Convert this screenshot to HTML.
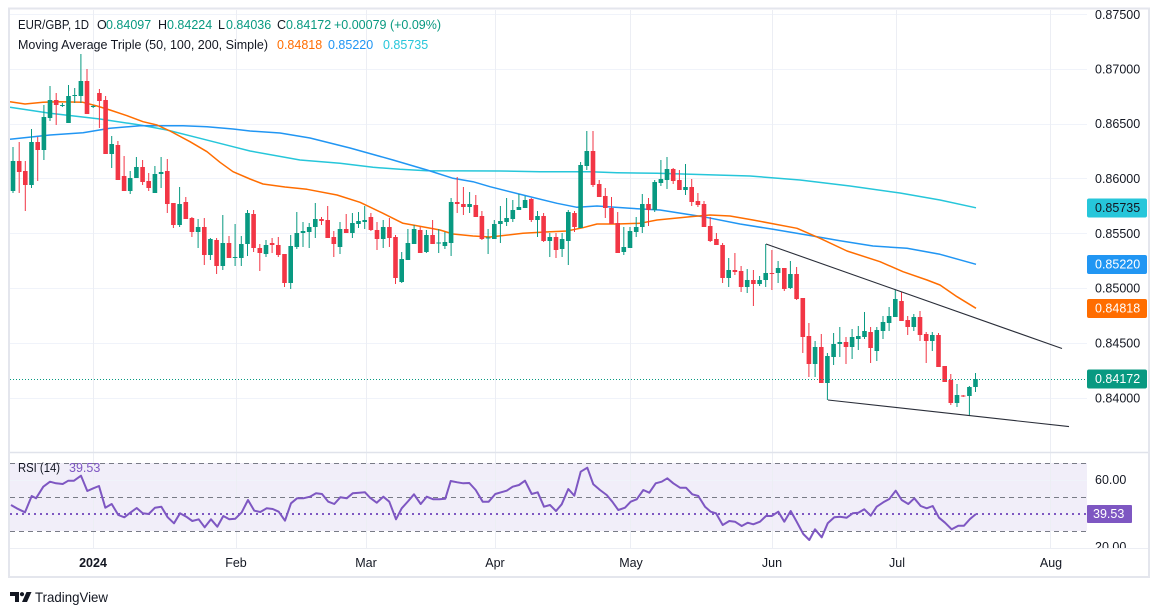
<!DOCTYPE html>
<html><head><meta charset="utf-8"><style>
html,body{margin:0;padding:0;background:#fff;width:1159px;height:615px;overflow:hidden}
svg{display:block;font-family:"Liberation Sans",sans-serif}
</style></head><body>
<svg width="1159" height="615" viewBox="0 0 1159 615" xmlns="http://www.w3.org/2000/svg">
<rect x="0" y="0" width="1159" height="615" fill="#fff"/>
<!-- RSI band -->
<rect x="10" y="463" width="1077" height="68" fill="#f1eef9"/>
<!-- grid -->
<g stroke="#f0f3fa" stroke-width="1">
<path d="M10 14.5H1087M10 69.5H1087M10 124.5H1087M10 178.5H1087M10 233.5H1087M10 288.5H1087M10 343.5H1087M10 398.5H1087"/>
<path d="M10 480.5H1087M10 513.5H1087"/>
<path d="M93.5 10V548M236.5 10V548M366.5 10V548M495.5 10V548M630.5 10V548M772.5 10V548M896.5 10V548M1050.5 10V548" stroke="#eceef4"/>
</g>
<!-- RSI levels -->
<g stroke="#787b86" stroke-width="1" stroke-dasharray="5 4" fill="none">
<path d="M10 463.5H1087M10 497.5H1087M10 531.5H1087"/>
</g>
<path d="M10 514H1087" stroke="#7e57c2" stroke-width="2" stroke-dasharray="2 4" fill="none"/>
<!-- MAs -->
<g fill="none" stroke-width="1.5" stroke-linejoin="round">
<polyline stroke="#26c6da" points="10,107.3 50,113.3 100,119 140,125 167,130 200,138.3 233,146.7 250,151 300,160 340,163.3 373,167.3 400,169.3 427,170.7 500,171 540,171.7 590,171.7 617,172.7 657,173.3 750,176 800,180 850,186 900,193 940,200 976,207.8"/>
<polyline stroke="#2196f3" points="10,139.3 50,135 83,132.7 110,128.3 140,125.7 183,125.7 207,126.7 233,129 250,131 280,133 310,138 350,148 393,160 427,170 453,178.3 473,181.7 490,186.7 523,195 557,203.3 577,207.3 597,206 630,208.3 660,210 703,216.7 740,224 773,229.3 807,235 840,240.7 873,246 907,248.3 940,254.3 976,264.3"/>
<polyline stroke="#ff6d00" points="10,101.7 25,104 43,102.3 58,101.7 83,102.3 97,106 110,110 127,115.7 143,121.7 157,125 170,131 190,141.7 207,151.7 220,162.3 233,171.7 250,179 263,184 285,187 307,189.3 337,195 360,202.3 383,213.3 403,223.3 417,225.7 440,230 453,234 473,236 490,237 523,233.3 545,232 567,231 583,227.7 597,224 617,224 640,223.3 657,220 690,216.7 710,215 730,216 753,220 797,228.3 820,238.3 847,251 880,261.7 903,271.7 927,280 940,285 957,296.7 976,308.3"/>
</g>
<!-- candles green -->
<path stroke="#089981" stroke-width="1" fill="none" d="M13 147V193M31.5 129V188M43.9 105V160M50 86V121M62.4 103V107M68.5 85V123M74.7 88V103M80.9 54V103M93.2 105V108M111.7 136V168M130.2 171V194M136.4 157V178M154.9 166V193M161.1 157V188M179.6 187V227M198.1 219V248M210.4 238V260M222.8 215V270M235.1 224V266M241.3 236V266M247.5 210V256M266 240V257M290.7 235V289M296.8 212V249M303 222V247M309.2 223V248M315.3 203V238M340 222V254M352.4 213V238M358.5 212V228M364.7 206V229M383.2 220V248M401.7 252V283M407.9 229V260M414.1 225V244M426.4 230V253M438.7 229V253M444.9 232V249M451.1 198V256M469.6 192V213M488.1 229V254M494.3 220V239M500.4 206V243M506.6 198V226M512.8 200V222M518.9 194V210M525.1 196V208M537.5 211V237M549.8 233V257M562.1 233V257M568.3 210V265M580.6 162V228M586.8 131V170M623.8 227V255M630 227V248M636.2 217V237M642.3 194V233M654.7 180V212M660.9 160V186M667 157V189M685.5 164V195M728.7 258V287M747.2 269V293M759.6 276V286M765.7 244V287M778.1 261V283M790.4 261V289M815.1 341V377M827.4 353V400M833.6 333V365M839.8 327V357M852.1 329V359M858.3 326V350M864.5 312V339M876.8 327V361M883 316V339M889.1 307V331M895.3 290V317M913.8 314V331M932.3 332V351M957 384V407M969.4 386V416M975.5 373V392"/>
<path fill="#089981" d="M10.7 161h4.6V191h-4.6zM29.2 142h4.6V185h-4.6zM41.6 117h4.6V150h-4.6zM47.7 100h4.6V118h-4.6zM60.1 105h4.6V106h-4.6zM66.2 96h4.6V123h-4.6zM72.4 95h4.6V96h-4.6zM78.6 81h4.6V96h-4.6zM90.9 106h4.6V107h-4.6zM109.4 144h4.6V154h-4.6zM127.9 178h4.6V191h-4.6zM134.1 167h4.6V178h-4.6zM152.6 174h4.6V193h-4.6zM158.8 172h4.6V174h-4.6zM177.3 204h4.6V225h-4.6zM195.8 227h4.6V232h-4.6zM208.1 239h4.6V255h-4.6zM220.5 243h4.6V266h-4.6zM232.8 257h4.6V258h-4.6zM239 244h4.6V258h-4.6zM245.2 213h4.6V244h-4.6zM263.7 245h4.6V254h-4.6zM288.4 246h4.6V283h-4.6zM294.5 233h4.6V247h-4.6zM300.7 231h4.6V233h-4.6zM306.9 227h4.6V232h-4.6zM313 219h4.6V227h-4.6zM337.7 229h4.6V247h-4.6zM350.1 223h4.6V233h-4.6zM356.2 221h4.6V224h-4.6zM362.4 220h4.6V222h-4.6zM380.9 227h4.6V239h-4.6zM399.4 259h4.6V282h-4.6zM405.6 243h4.6V260h-4.6zM411.8 229h4.6V244h-4.6zM424.1 235h4.6V252h-4.6zM436.4 242.5h4.6V243.5h-4.6zM442.6 242h4.6V246h-4.6zM448.8 202h4.6V243h-4.6zM467.3 204h4.6V207h-4.6zM485.8 237.5h4.6V238.5h-4.6zM492 224h4.6V239h-4.6zM498.1 221h4.6V224h-4.6zM504.3 218h4.6V222h-4.6zM510.5 210h4.6V219h-4.6zM516.6 207h4.6V210h-4.6zM522.8 200h4.6V208h-4.6zM535.2 216h4.6V220h-4.6zM547.5 237h4.6V241h-4.6zM559.8 239h4.6V249h-4.6zM566 212h4.6V241h-4.6zM578.3 165h4.6V228h-4.6zM584.5 151h4.6V166h-4.6zM621.5 247h4.6V252h-4.6zM627.7 231h4.6V248h-4.6zM633.9 227h4.6V232h-4.6zM640 204h4.6V227h-4.6zM652.4 182h4.6V210h-4.6zM658.6 179h4.6V183h-4.6zM664.7 169h4.6V180h-4.6zM683.2 187h4.6V190h-4.6zM726.4 270h4.6V278h-4.6zM744.9 280h4.6V287h-4.6zM757.3 280h4.6V284h-4.6zM763.4 273h4.6V280h-4.6zM775.8 268h4.6V273h-4.6zM788.1 274h4.6V288h-4.6zM812.8 347h4.6V364h-4.6zM825.1 356h4.6V383h-4.6zM831.3 344h4.6V357h-4.6zM837.5 342h4.6V344h-4.6zM849.8 337h4.6V347h-4.6zM856 336h4.6V339h-4.6zM862.2 331h4.6V337h-4.6zM874.5 330h4.6V351h-4.6zM880.7 322h4.6V331h-4.6zM886.8 316h4.6V323h-4.6zM893 299h4.6V317h-4.6zM911.5 317h4.6V327h-4.6zM930 335h4.6V341h-4.6zM954.7 395h4.6V403h-4.6zM967.1 387h4.6V396h-4.6zM973.2 379h4.6V387h-4.6z"/>
<!-- candles red -->
<path stroke="#f23645" stroke-width="1" fill="none" d="M19.2 142V193M25.3 161V211M37.7 137V181M56.2 93V125M87 69V114M99.4 89V128M105.6 96V154M117.9 141V180M124.1 156V191M142.6 160V185M148.7 173V191M167.3 159V213M173.4 203V228M185.8 197V219M191.9 217V237M204.3 218V265M216.6 238V274M229 236V258M253.6 210V252M259.8 244V271M272.1 238V253M278.3 237V257M284.5 254V287M321.5 217V225M327.7 206V238M333.8 231V257M346.2 214V233M370.9 213V231M377 222V250M389.4 218V247M395.5 235V284M420.2 227V253M432.6 220V244M457.2 177V213M463.4 187V215M475.8 195V217M481.9 211V240M531.3 198V222M543.6 213V242M556 233V258M574.5 211V232M593 131V187M599.2 180V197M605.3 188V218M611.5 197V224M617.7 212V253M648.5 198V226M673.2 168V184M679.4 170V190M691.7 179V206M697.9 193V207M704 201V227M710.2 217V242M716.4 233V245M722.6 243V283M734.9 253V275M741.1 266V292M753.4 270V306M771.9 250V290M784.3 268V291M796.6 267V300M802.8 298V353M808.9 323V377M821.3 334V383M846 337V364M870.6 327V363M901.5 292V321M907.7 316V335M920 311V341M926.2 332V363M938.5 333V367M944.7 366V382M950.8 374V405M963.2 395V397"/>
<path fill="#f23645" d="M16.9 161h4.6V172h-4.6zM23 171h4.6V185h-4.6zM35.4 142h4.6V150h-4.6zM53.9 100h4.6V105h-4.6zM84.7 81h4.6V114h-4.6zM97.1 93h4.6V101h-4.6zM103.3 100h4.6V154h-4.6zM115.6 145h4.6V180h-4.6zM121.8 176h4.6V191h-4.6zM140.3 167h4.6V182h-4.6zM146.4 181h4.6V188h-4.6zM165 171h4.6V204h-4.6zM171.1 203h4.6V225h-4.6zM183.5 202h4.6V219h-4.6zM189.6 218h4.6V232h-4.6zM202 227h4.6V255h-4.6zM214.3 240h4.6V266h-4.6zM226.7 243h4.6V258h-4.6zM251.3 214h4.6V248h-4.6zM257.5 248h4.6V253h-4.6zM269.8 243h4.6V245h-4.6zM276 245h4.6V255h-4.6zM282.2 254h4.6V283h-4.6zM319.2 219h4.6V221h-4.6zM325.4 220h4.6V238h-4.6zM331.5 237h4.6V244h-4.6zM343.9 229h4.6V233h-4.6zM368.6 217h4.6V230h-4.6zM374.7 230h4.6V239h-4.6zM387.1 227h4.6V238h-4.6zM393.2 237h4.6V278h-4.6zM417.9 230h4.6V253h-4.6zM430.3 235h4.6V244h-4.6zM454.9 202h4.6V204h-4.6zM461.1 204h4.6V207h-4.6zM473.5 205h4.6V217h-4.6zM479.6 216h4.6V239h-4.6zM529 199h4.6V220h-4.6zM541.3 216h4.6V241h-4.6zM553.7 237h4.6V250h-4.6zM572.2 213h4.6V227h-4.6zM590.7 151h4.6V185h-4.6zM596.9 184h4.6V197h-4.6zM603 196h4.6V208h-4.6zM609.2 208h4.6V224h-4.6zM615.4 223h4.6V253h-4.6zM646.2 204h4.6V210h-4.6zM670.9 169h4.6V181h-4.6zM677.1 180h4.6V190h-4.6zM689.4 187h4.6V202h-4.6zM695.6 201h4.6V205h-4.6zM701.7 204h4.6V227h-4.6zM707.9 226h4.6V241h-4.6zM714.1 239h4.6V245h-4.6zM720.3 245h4.6V278h-4.6zM732.6 270h4.6V272h-4.6zM738.8 271h4.6V287h-4.6zM751.1 280h4.6V284h-4.6zM769.6 273h4.6V274h-4.6zM782 268h4.6V289h-4.6zM794.3 274h4.6V299h-4.6zM800.5 298h4.6V337h-4.6zM806.6 336h4.6V364h-4.6zM819 347h4.6V383h-4.6zM843.7 342h4.6V347h-4.6zM868.3 332h4.6V348h-4.6zM899.2 301h4.6V321h-4.6zM905.4 320h4.6V327h-4.6zM917.7 317h4.6V335h-4.6zM923.9 334h4.6V341h-4.6zM936.2 335h4.6V367h-4.6zM942.4 366h4.6V382h-4.6zM948.5 380h4.6V403h-4.6zM960.9 395.5h4.6V396.5h-4.6z"/>
<!-- trendlines -->
<g stroke="#2a2e39" stroke-width="1.1" fill="none">
<path d="M766 244L1062 348.5"/>
<path d="M828 400L1069 426.6"/>
</g>
<!-- price line -->
<path d="M10 379.5H1087" stroke="#089981" stroke-width="1" stroke-dasharray="1 2" fill="none"/>
<!-- RSI line -->
<polyline fill="none" stroke="#7e57c2" stroke-width="2" stroke-linejoin="round" points="11,505 16.7,508.3 25,512.3 31.7,496 36,498.3 43.3,486.7 50,481.7 56,483.3 62.7,484 68.3,480.7 74,480.7 81,475.7 87.3,491 93.3,488.3 99,486 105.3,507.7 111.7,504 118.3,515 124.3,517.3 130.3,512.7 136.7,508 142.7,513.3 148.7,514 155,507.7 161.3,506.7 167.7,517.3 174,523.3 180,513.3 186.3,516.7 192.3,521 198.7,519.3 204.7,527.3 211,519.3 217.3,526.7 223.3,516 229.3,519.3 235.3,518.7 241.7,512.3 248,500 254.3,510.7 260.3,512 266.7,508.3 272.7,509 278.7,511.7 285,520.7 291,503.3 297,498.3 303.3,498.3 310,496.7 316,493.3 322,494 328.3,501.7 334.3,504 340.3,497.3 346.7,498.3 352.7,493.3 359.3,492.7 365,492.3 370,497.7 376.7,502.7 383.3,496.7 389.3,501.7 396,519.3 401.7,508.3 408.3,501 414,494.3 420.7,504 426.7,496.7 433.3,499.3 439.3,499.3 445.3,498.7 450.7,481 457.3,482.3 463.3,483.3 469.3,483 475.7,490 482.7,501.7 488.7,501.7 495.3,494 501,492.3 506.7,490.7 512.7,486.7 519,485 525,480.7 531.7,494 537.7,492.3 544,506.7 550,505 556,511 561.7,504.3 568.3,489 574.3,495.7 580.7,471.7 587.3,467.7 593.3,484.3 600,490 606.7,495 612.3,501.7 618.3,510 625,507.7 630.7,501.7 636.7,499.3 643.3,490 649.3,492.7 655.7,483.3 661.7,481.7 667.3,478.3 673.3,483.3 680,487.7 686,487.7 692.3,494.3 698.3,496 705,506.7 710.7,511.7 716,513.3 722.7,525 729.3,521 735,521.7 741.7,526 747.7,522.7 753.3,524.3 760,521.7 766,516 771.7,516 778.3,511.7 784.3,521.7 790.7,511 796.7,521.7 803.3,534 809.3,540 815,529.3 821.7,537.3 827.7,523.3 834.3,517.3 840,516.7 846.7,517.7 852.7,513.3 858.3,512.7 864.3,509.3 870.7,515.7 876.7,506.7 883.3,502.3 889.3,499 895.7,490.7 901.7,500 908.3,504 914.3,498.3 920.7,506 926.7,508.3 932.7,506 939,517.7 945,522.7 951.7,529.3 958.3,525.7 964,525.7 970,519 976,514"/>
<!-- price axis labels -->
<g font-size="12.5" fill="#131722" dominant-baseline="central">
<text x="1095" y="15">0.87500</text>
<text x="1095" y="69.5">0.87000</text>
<text x="1095" y="124">0.86500</text>
<text x="1095" y="179">0.86000</text>
<text x="1095" y="234">0.85500</text>
<text x="1095" y="288.5">0.85000</text>
<text x="1095" y="343.5">0.84500</text>
<text x="1095" y="398.5">0.84000</text>
<text x="1095" y="480">60.00</text>
<text x="1095" y="547">20.00</text>
</g>
<rect x="1087" y="198.5" width="60" height="19" rx="2" fill="#26c6da"/>
<rect x="1087" y="255" width="60" height="19" rx="2" fill="#2196f3"/>
<rect x="1087" y="299" width="60" height="19" rx="2" fill="#ff6d00"/>
<rect x="1087" y="369.5" width="60" height="19" rx="2" fill="#089981"/>
<rect x="1087" y="505" width="45" height="18" rx="1" fill="#7e57c2"/>
<g font-size="12.5" dominant-baseline="central">
<text x="1095" y="208" fill="#131722">0.85735</text>
<text x="1095" y="264.5" fill="#fff">0.85220</text>
<text x="1095" y="308.5" fill="#fff">0.84818</text>
<text x="1095" y="379" fill="#fff">0.84172</text>
<text x="1093" y="514" fill="#fff">39.53</text>
</g>
<!-- time axis area -->
<rect x="10" y="548.5" width="1139" height="28" fill="#fff"/>
<path d="M10 548.5H1149" stroke="#eceef4" stroke-width="1"/>
<path d="M10 452.5H1149" stroke="#e0e3eb" stroke-width="1.5"/>
<g font-size="12.5" fill="#131722" text-anchor="middle" dominant-baseline="central">
<text x="93" y="563" font-weight="bold">2024</text>
<text x="236" y="563">Feb</text>
<text x="366" y="563">Mar</text>
<text x="495" y="563">Apr</text>
<text x="631" y="563">May</text>
<text x="772" y="563">Jun</text>
<text x="897" y="563">Jul</text>
<text x="1051" y="563">Aug</text>
</g>
<!-- frame -->
<rect x="9" y="8.5" width="1140" height="568.5" fill="none" stroke="#e4e6ed" stroke-width="2"/>
<!-- legend -->
<g font-size="12.5" dominant-baseline="central">
<text x="18" y="25" fill="#131722" textLength="71" lengthAdjust="spacingAndGlyphs">EUR/GBP, 1D</text>
<text x="97" y="25" fill="#131722">O</text><text x="106" y="25" fill="#089981">0.84097</text>
<text x="158" y="25" fill="#131722">H</text><text x="167" y="25" fill="#089981">0.84224</text>
<text x="218" y="25" fill="#131722">L</text><text x="226" y="25" fill="#089981">0.84036</text>
<text x="277" y="25" fill="#131722">C</text><text x="286" y="25" fill="#089981">0.84172</text>
<text x="334" y="25" fill="#089981">+0.00079 (+0.09%)</text>
<text x="18" y="45" fill="#131722" textLength="250" lengthAdjust="spacingAndGlyphs">Moving Average Triple (50, 100, 200, Simple)</text>
<text x="277" y="45" fill="#ff6d00">0.84818</text>
<text x="328" y="45" fill="#2196f3">0.85220</text>
<text x="383" y="45" fill="#26c6da">0.85735</text>
<text x="18" y="468" fill="#131722" textLength="42" lengthAdjust="spacingAndGlyphs">RSI (14)</text>
<text x="69" y="468" fill="#7e57c2">39.53</text>
</g>
<!-- TradingView logo -->
<g fill="#131722">
<path d="M10 592h9v10h-4v-6h-5z"/>
<circle cx="22" cy="594.2" r="2.1"/>
<path d="M26.5 592h5l-4.5 10h-5z"/>
</g>
<text x="35" y="597" font-size="14" fill="#131722" dominant-baseline="central" textLength="73" lengthAdjust="spacingAndGlyphs">TradingView</text>
</svg>
</body></html>
